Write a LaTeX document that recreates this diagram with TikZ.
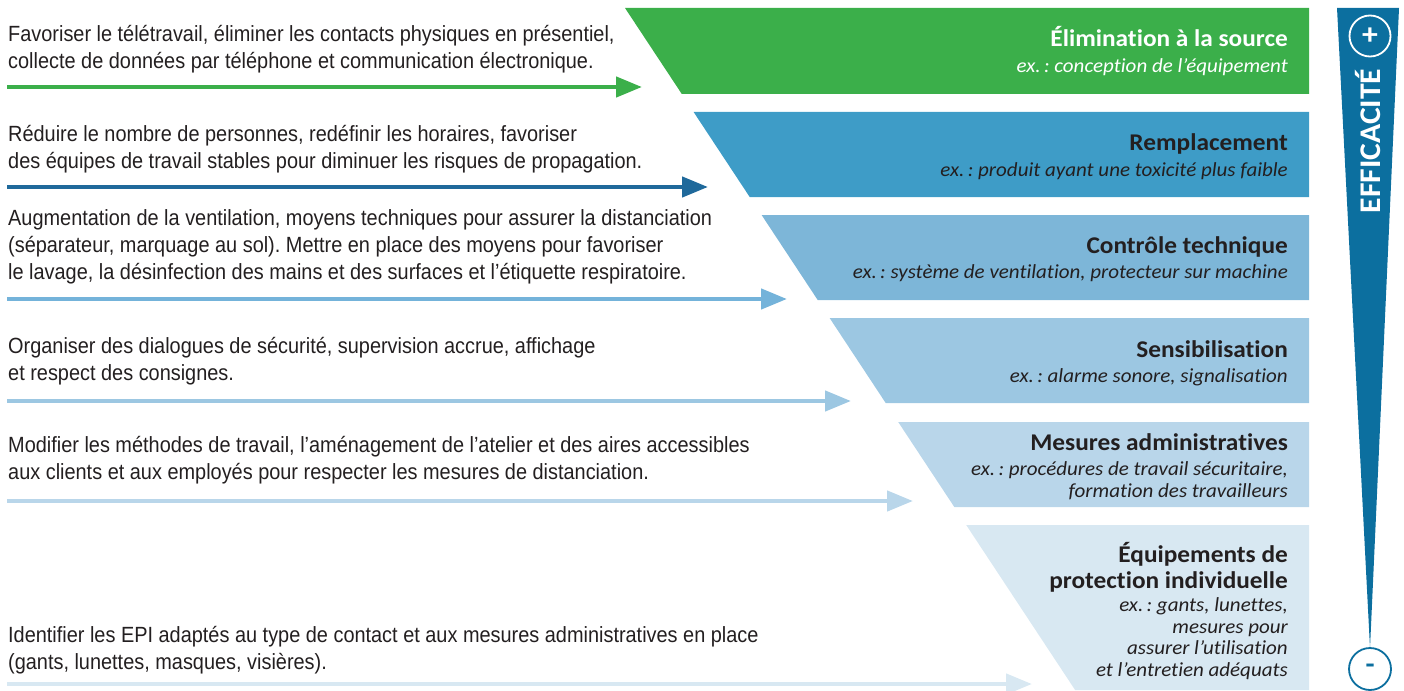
\documentclass[tikz,border=0pt]{standalone}
\usepackage{fontspec}
\setmainfont{Carlito}
\newfontfamily\lfont[FakeStretch=0.905]{Liberation Sans}
\newfontfamily\tfont[FakeStretch=1.055,Ligatures=NoCommon]{Carlito}
\newfontfamily\dfont[FakeStretch=1.05,Ligatures=NoCommon]{Carlito}
\usetikzlibrary{arrows.meta}
\definecolor{txt}{HTML}{231F20}
\definecolor{cA}{HTML}{3BAF4A}
\definecolor{cB}{HTML}{3E9CC7}
\definecolor{cC}{HTML}{7DB6D8}
\definecolor{cD}{HTML}{9CC7E2}
\definecolor{cE}{HTML}{B9D6EA}
\definecolor{cF}{HTML}{D8E8F2}
\definecolor{aB}{HTML}{1F699B}
\definecolor{aC}{HTML}{74B3DA}
\definecolor{bar}{HTML}{0C6F9F}
\begin{document}
\frenchspacing
\begin{tikzpicture}[x=1pt,y=-1pt,
  ltext/.style={anchor=base west,inner sep=0pt,align=left,text=txt,font=\lfont\fontsize{22}{27}\selectfont},
  ttl/.style={anchor=base east,inner sep=0pt,align=right,text=txt,font=\tfont\bfseries\fontsize{24}{26}\selectfont},
  dsc/.style={anchor=base east,inner sep=0pt,align=right,text=txt,font=\dfont\itshape\fontsize{20}{21.5}\selectfont},
  arr/.style={line width=4.5pt,-{Triangle[length=26pt,width=20pt]}}]
\useasboundingbox (0,0) rectangle (1404,690);
% bands
\fill[cA] (625,8) -- (1309,8) -- (1309,94) -- (681.8,94) -- cycle;
\fill[cB] (693.6,112) -- (1309,112) -- (1309,197) -- (749.7,197) -- cycle;
\fill[cC] (761.6,215) -- (1309,215) -- (1309,300) -- (817.7,300) -- cycle;
\fill[cD] (829.6,318) -- (1309,318) -- (1309,403) -- (885.7,403) -- cycle;
\fill[cE] (898.2,422) -- (1309,422) -- (1309,507) -- (954.3,507) -- cycle;
\fill[cF] (966.2,525) -- (1309,525) -- (1309,690) -- (1075.1,690) -- cycle;
% left texts (anchored at the baseline of their last line)
\node[ltext] (l1) at (8,69) {Favoriser le télétravail, éliminer les contacts physiques en présentiel,\\collecte de données par téléphone et communication électronique.};
\node[ltext] (l2) at (8,168) {Réduire le nombre de personnes, redéfinir les horaires, favoriser\\des équipes de travail stables pour diminuer les risques de propagation.};
\node[ltext] (l3) at (8,279) {Augmentation de la ventilation, moyens techniques pour assurer la distanciation\\(séparateur, marquage au sol). Mettre en place des moyens pour favoriser\\le lavage, la désinfection des mains et des surfaces et l’étiquette respiratoire.};
\node[ltext] (l4) at (8,380) {Organiser des dialogues de sécurité, supervision accrue, affichage\\et respect des consignes.};
\node[ltext] (l5) at (8,479) {Modifier les méthodes de travail, l’aménagement de l’atelier et des aires accessibles\\aux clients et aux employés pour respecter les mesures de distanciation.};
\node[ltext] (l6) at (8,669) {Identifier les EPI adaptés au type de contact et aux mesures administratives en place\\(gants, lunettes, masques, visières).};
% arrows
\coordinate (s1) at (7,87);  \coordinate (e1) at (642,87);
\coordinate (s2) at (7,187); \coordinate (e2) at (708,187);
\coordinate (s3) at (7,299); \coordinate (e3) at (787,299);
\coordinate (s4) at (7,401); \coordinate (e4) at (851,401);
\coordinate (s5) at (7,501); \coordinate (e5) at (913,501);
\coordinate (s6) at (7,684); \coordinate (e6) at (1032,684);
\draw[arr,cA] (s1) -- (e1);
\draw[arr,aB] (s2) -- (e2);
\draw[arr,aC] (s3) -- (e3);
\draw[arr,cD] (s4) -- (e4);
\draw[arr,cE] (s5) -- (e5);
\draw[arr,cF] (s6) -- (e6);
% right texts
\node[ttl,text=white] (t1) at (1288,47) {Élimination à la source};
\node[dsc,text=white] (d1) at (1288,73) {ex.\,: conception de l’équipement};
\node[ttl] (t2) at (1288,150) {Remplacement};
\node[dsc] (d2) at (1288,176) {ex.\,: produit ayant une toxicité plus faible};
\node[ttl] (t3) at (1288,253) {Contrôle technique};
\node[dsc] (d3) at (1288,278) {ex.\,: système de ventilation, protecteur sur machine};
\node[ttl] (t4) at (1288,357) {Sensibilisation};
\node[dsc] (d4) at (1288,382) {ex.\,: alarme sonore, signalisation};
\node[ttl] (t5) at (1288,450) {Mesures administratives};
\node[dsc] (d5) at (1288,497) {ex.\,: procédures de travail sécuritaire,\\formation des travailleurs};
\node[ttl] (t6) at (1288,588) {Équipements de\\protection individuelle};
\node[dsc] (d6) at (1288,676) {ex.\,: gants, lunettes,\\mesures pour\\assurer l’utilisation\\et l’entretien adéquats};
% efficacy bar
\fill[bar] (1337,8) -- (1399,8) -- (1370,648) -- cycle;
\node[circle,draw=white,line width=1.8pt,minimum size=41pt,inner sep=0pt,text=white,font=\tfont\bfseries\fontsize{30}{30}\selectfont] (plus) at (1370,36) {+};
\node[rotate=90,anchor=base,text=white,inner sep=0pt,font=\tfont\bfseries\fontsize{30}{30}\selectfont] (eff) at (1380,141) {EFFICACITÉ};
\node[circle,draw=bar,fill=white,line width=1.8pt,minimum size=42pt,inner sep=0pt,text=bar,font=\tfont\bfseries\fontsize{28}{28}\selectfont] (minus) at (1370,669) {-};
\end{tikzpicture}
\end{document}
